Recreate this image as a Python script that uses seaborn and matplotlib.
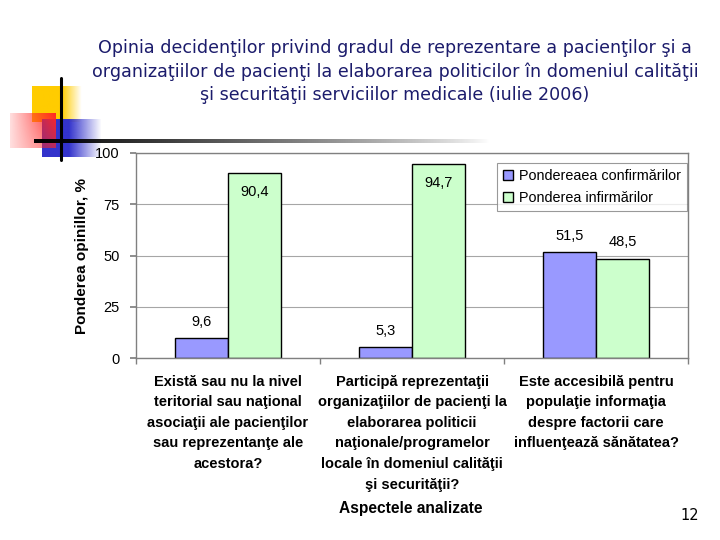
import numpy as np
import pandas as pd
import matplotlib.pyplot as plt
import seaborn as sns

categories = [
    "Există sau nu la nivel\nteritorial sau naţional\nasociaţii ale pacienţilor\nsau reprezentanţe ale\nacestora?",
    "Participă reprezentaţii\norganizaţiilor de pacienţi la\nelaborarea politicii\nnaţionale/programelor\nlocale în domeniul calităţii\nşi securităţii?",
    "Este accesibilă pentru\npopulaţie informaţia\ndespre factorii care\ninfluenţează sănătatea?",
]
series_names = ["Pondereaea confirmărilor", "Ponderea infirmărilor"]
confirm_values = [9.6, 5.3, 51.5]
reject_values = [90.4, 94.7, 48.5]
y_ticks = [0, 25, 50, 75, 100]

title = ("Opinia decidenţilor privind gradul de reprezentare a pacienţilor şi a\n"
         "organizaţiilor de pacienţi la elaborarea politicilor în domeniul calităţii\n"
         "şi securităţii serviciilor medicale (iulie 2006)")

df = pd.DataFrame({
    "Aspect": categories * 2,
    "Serie": [series_names[0]] * 3 + [series_names[1]] * 3,
    "Valoare": confirm_values + reject_values,
})

sns.set_theme(style="white")
plt.rcParams["font.family"] = ["Liberation Sans", "DejaVu Sans"]
plt.rcParams["text.color"] = "black"
plt.rcParams["xtick.color"] = "black"
plt.rcParams["ytick.color"] = "black"
plt.rcParams["axes.labelcolor"] = "black"

fig = plt.figure(figsize=(7.2, 5.4), dpi=100)

# decorative slide ornament (top-left), drawn in pixel coordinates
deco = fig.add_axes([0, 0, 1, 1], zorder=0)
deco.axis("off")


def grad_rect(ax, x0, x1, y0, y1, rgb, fade_start=0.5):
    n = 64
    t = np.linspace(0, 1, n)
    img = np.zeros((1, n, 4))
    img[..., 0], img[..., 1], img[..., 2] = rgb
    img[0, :, 3] = np.clip((1 - t) / (1 - fade_start), 0, 1)
    ax.imshow(img, extent=(x0, x1, y1, y0), aspect="auto", interpolation="bilinear")


grad_rect(deco, 32, 82, 86, 122, (1.0, 0.8, 0.0), fade_start=0.6)
grad_rect(deco, 42, 102, 119, 157, (0.2, 0.2, 0.8), fade_start=0.45)
# red block: pale on the left, strong red on the right
n = 64
red = np.ones((n, n, 4))
xx, yy = np.meshgrid(np.linspace(0, 1, n), np.linspace(0, 1, n))
red[..., 1] = 0.15
red[..., 2] = 0.15
red[..., 3] = np.clip(0.15 + 0.85 * xx * (1 - 0.4 * yy), 0, 1)
deco.imshow(red, extent=(10, 56, 148, 113), aspect="auto", interpolation="bilinear")
# fading horizontal rule
line = np.zeros((1, 256, 4))
line[0, :, 3] = np.linspace(1, 0, 256) ** 0.8
deco.imshow(line, extent=(34, 490, 143, 139.5), aspect="auto", interpolation="bilinear")
deco.plot([61, 61], [78, 160], color="black", lw=2.2)
deco.set_xlim(0, 720)
deco.set_ylim(540, 0)

ax = fig.add_axes([136 / 720, 1 - 358 / 540, 552 / 720, 205 / 540], zorder=1)
sns.barplot(
    data=df, x="Aspect", y="Valoare", hue="Serie", ax=ax,
    palette=["#9999ff", "#ccffcc"], width=0.58,
    edgecolor="black", linewidth=1, saturation=1,
)

ax.set_ylim(0, 100)
ax.set_xlim(-0.5, 2.5)
ax.set_yticks(y_ticks)
ax.set_yticklabels([str(t) for t in y_ticks], fontsize=10.5)
ax.yaxis.grid(True, color="#a6a6a6", lw=0.8)
ax.set_axisbelow(True)
for sp in ax.spines.values():
    sp.set_color("#808080")
    sp.set_linewidth(1)
ax.tick_params(axis="y", length=4, color="#808080", pad=8, left=True)
ax.set_xticks([0, 1, 2])
ax.set_xticklabels(categories, fontsize=10.5, fontweight="bold", linespacing=1.6)
ax.tick_params(axis="x", length=0, pad=12)
ax.set_xticks([-0.5, 0.5, 1.5, 2.5], minor=True)
ax.tick_params(axis="x", which="minor", length=4, color="#808080", bottom=True)
ax.set_xlabel("")
ax.set_ylabel("Ponderea opinillor, %", fontsize=11, fontweight="bold", labelpad=4)

for cont in ax.containers:
    for bar in cont:
        v = bar.get_height()
        xc = bar.get_x() + bar.get_width() / 2
        y = v - 9.5 if v > 85 else v + 8
        ax.text(xc, y, f"{v:.1f}".replace(".", ","), ha="center", va="center",
                fontsize=10.5, color="black")

leg = ax.legend(loc="upper right", bbox_to_anchor=(0.998, 0.952), borderaxespad=0,
                fontsize=10.4, frameon=True, fancybox=False, handlelength=0.7,
                handleheight=0.7, handletextpad=0.4, borderpad=0.4, labelspacing=0.6)
leg.get_frame().set_edgecolor("#808080")
leg.get_frame().set_linewidth(0.8)
for h in leg.legend_handles:
    h.set_edgecolor("black")
    h.set_linewidth(1)

fig.text(395 / 720, 1 - 39 / 540, title, ha="center", va="top", fontsize=12.6,
         color="#1c1c6c", family=["DejaVu Sans"], linespacing=1.36)
fig.text(411 / 720, 1 - 508 / 540, "Aspectele analizate", ha="center", va="center",
         fontsize=11.2, fontweight="bold")
fig.text(690 / 720, 1 - 516 / 540, "12", ha="center", va="center", fontsize=10.5,
         family=["DejaVu Sans"])

fig.savefig("out.png", dpi=100)
